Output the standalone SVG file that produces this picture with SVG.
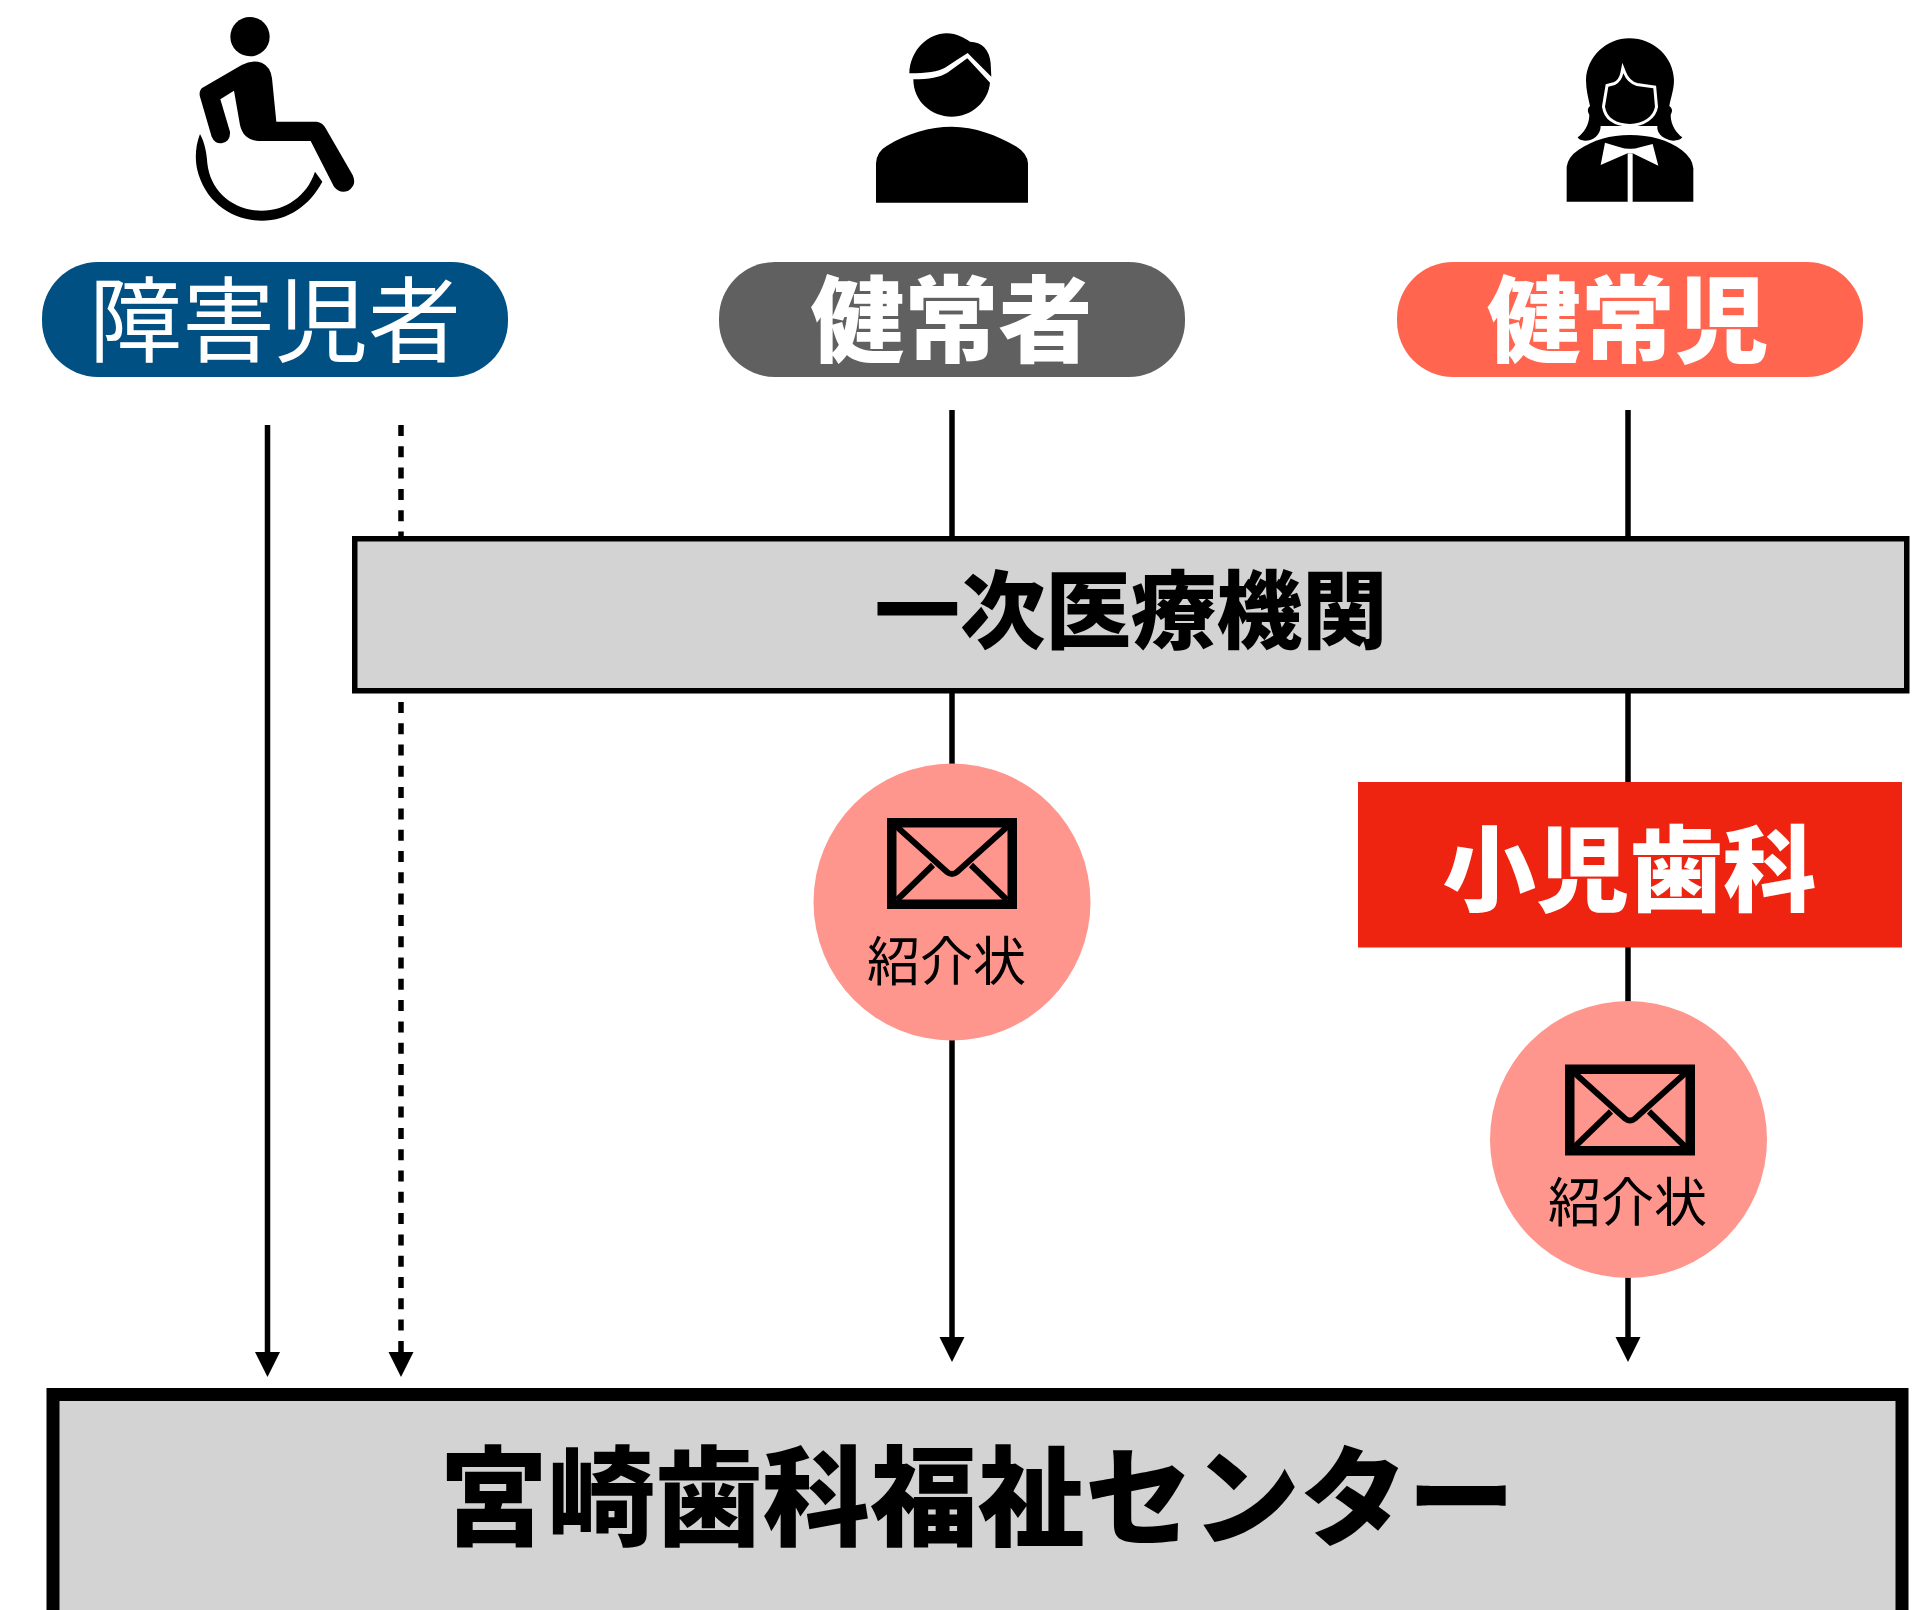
<svg xmlns="http://www.w3.org/2000/svg" width="1926" height="1610" viewBox="0 0 1926 1610">
<style>
text{font-family:"Noto Sans CJK JP","Noto Sans CJK SC",sans-serif;text-anchor:middle}
.w{fill:#fff}.b{font-weight:900}.k{fill:#000}
.line{stroke:#000;stroke-width:5.500;fill:none}
.box{fill:#d3d3d3;stroke:#000}
.circ{fill:#ff968d}
</style>
<defs>
<marker id="arrow" markerUnits="userSpaceOnUse" markerWidth="26" markerHeight="26" refX="3" refY="13" orient="auto"><path d="M0 0.500L25 13L0 25.500Z" fill="#000"/></marker>
<g id="envelope">
<rect x="4.750" y="4.750" width="120.500" height="81.500" fill="none" stroke="#000" stroke-width="9.500"/>
<path d="M9 8L60 54Q65 58 70 54L121 8M10 82L46 47M120 82L84 47" fill="none" stroke="#000" stroke-width="6"/>
</g>
</defs>
<g id="connectors">
<path class="line" d="M267.500 425V1355" marker-end="url(#arrow)"/>
<path class="line" d="M401 425V1355" stroke-dasharray="11 10.300" marker-end="url(#arrow)"/>
<path class="line" d="M952 410V1340" marker-end="url(#arrow)"/>
<path class="line" d="M1628 410V1340" marker-end="url(#arrow)"/>
</g>
<g id="icon-wheelchair" transform="translate(160 0) scale(.3333)">
<circle cx="270" cy="110" r="59"/>
<path d="M125 265L245 195Q275 178 305 188Q332 200 336 235L349 365L470 365Q488 367 497 385L578 525Q592 555 565 572Q540 582 522 560L452 423L295 423Q250 420 240 375L222 272L181 298L210 395Q212 425 185 430Q165 432 155 410L120 290Q116 275 125 265Z"/>
<path d="M120 402C105 440 105 480 112 510C135 605 215 662 305 662C385 662 450 615 487 545L465 515C440 590 375 632 305 632C215 632 150 570 142 490C140 460 135 430 120 402Z"/>
</g>
<g id="icon-man" transform="translate(850 20) scale(.3333)">
<path d="M178 160C180 90 235 40 290 40C320 40 345 55 360 65C395 65 420 90 422 130L424 170L353 99Q320 120 285 143Q255 160 178 160Z"/>
<path d="M190 178Q260 178 292 158Q325 135 352 115L420 188C415 245 365 290 305 290C245 290 190 245 190 178Z"/>
<path d="M78 548L78 430Q80 395 110 378C170 340 240 320 305 320C375 320 440 345 500 380Q532 400 534 430L534 548Z"/>
</g>
<g id="icon-woman" transform="translate(1540 20) scale(.3333)">
<path d="M268 55C340 55 400 110 402 180C402 210 392 235 388 258Q402 268 392 285C392 315 410 340 427 352Q420 362 400 362C375 360 352 345 350 318L182 318C182 345 160 362 135 362Q118 362 113 352C130 340 148 315 148 285Q138 268 150 258C145 235 138 210 138 180C140 110 200 55 268 55Z"/>
<path d="M250 160Q262 190 290 198L340 205L345 260C340 290 310 310 270 312C230 310 200 295 195 260L205 200L225 195Q245 185 250 160Z" fill="#fff" stroke="#fff" stroke-width="18"/>
<path d="M250 160Q262 190 290 198L340 205L345 260C340 290 310 310 270 312C230 310 200 295 195 260L205 200L225 195Q245 185 250 160Z"/>
<path d="M188 318H352V350H188Z" fill="#fff"/>
<path d="M80 545L80 440Q85 410 115 390C160 360 210 345 270 345C330 345 385 360 425 390Q458 415 460 445L460 545Z"/>
<path d="M195 368L182 435L263 400L278 400L355 437L338 372L300 382Q270 392 235 380Z" fill="#fff"/>
<path d="M228 362H312Q300 385 270 385Q240 385 228 362Z"/>
<rect x="263" y="400" width="15" height="146" fill="#fff"/>
</g>
<g id="pill-disabled">
<rect x="42" y="262" width="466" height="115" rx="56" fill="#005084"/>
<text class="w" x="275" y="355" font-size="93" font-weight="400">障害児者</text>
</g>
<g id="pill-adult">
<rect x="719" y="262" width="466" height="115" rx="56" fill="#606060"/>
<text class="w b" x="951.500" y="355" font-size="94">健常者</text>
</g>
<g id="pill-child">
<rect x="1397" y="262" width="466" height="115" rx="56" fill="#ff654f"/>
<text class="w b" x="1628" y="355" font-size="94">健常児</text>
</g>
<g id="primary-care">
<rect class="box" x="354.750" y="538.750" width="1552" height="152" stroke-width="5.500"/>
<text class="k b" x="1131" y="642" font-size="85.500">一次医療機関</text>
</g>
<g id="pediatric">
<rect x="1358" y="782" width="544" height="165.500" fill="#ef2410"/>
<text class="w b" x="1629.500" y="904" font-size="93.500">小児歯科</text>
</g>
<g id="letter-1">
<circle class="circ" cx="952" cy="902" r="138.500"/>
<use href="#envelope" x="887" y="818"/>
<text class="k" x="946.500" y="981" font-size="53" font-weight="400">紹介状</text>
</g>
<g id="letter-2">
<circle class="circ" cx="1628.500" cy="1139.500" r="138.500"/>
<use href="#envelope" x="1565" y="1064.500"/>
<text class="k" x="1627.500" y="1222" font-size="53" font-weight="400">紹介状</text>
</g>
<g id="center">
<rect class="box" x="53" y="1394.500" width="1849" height="240" stroke-width="13"/>
<text class="k b" x="977.500" y="1537" font-size="107.500">宮崎歯科福祉センター</text>
</g>
</svg>
